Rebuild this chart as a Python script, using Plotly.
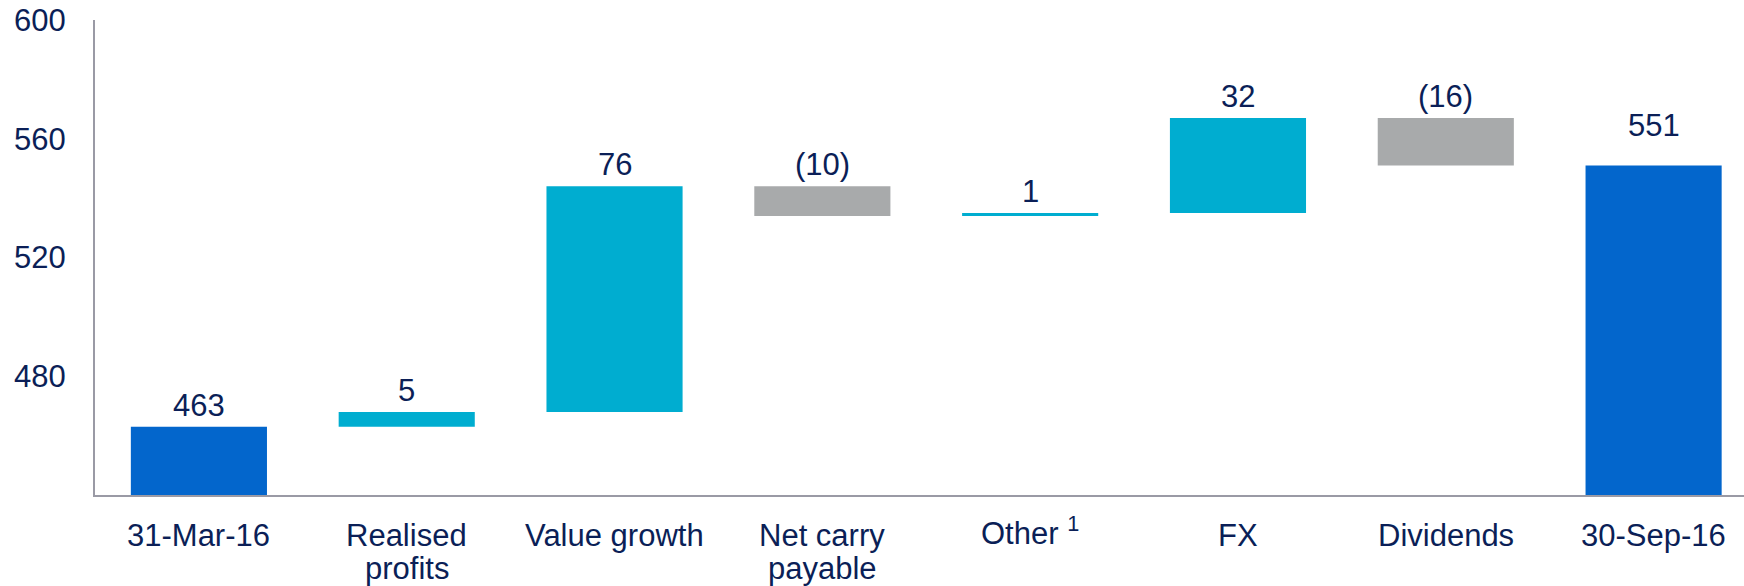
import plotly.graph_objects as go

# Portfolio value bridge, 31-Mar-16 to 30-Sep-16
categories = ["31-Mar-16", "Realised<br>profits", "Value growth", "Net carry<br>payable",
              "Other <sup>1</sup>", "FX", "Dividends", "30-Sep-16"]
values = [463, 5, 76, -10, 1, 32, -16, 551]
measures = ["absolute", "relative", "relative", "relative", "relative", "relative", "relative", "total"]
y_ticks = [480, 520, 560, 600]

TEXT = "#0B1F57"
FONT = "Liberation Sans, Arial, sans-serif"
x_pos = list(range(len(categories)))

fig = go.Figure(go.Waterfall(
    x=x_pos,
    y=values,
    measure=measures,
    increasing=dict(marker=dict(color="#00ADD0")),
    decreasing=dict(marker=dict(color="#A8AAAB")),
    totals=dict(marker=dict(color="#0366CC")),
    connector=dict(visible=False),
    textposition="none",
    hoverinfo="skip",
))

# value labels sit above the upper edge of each bar; the closing total
# label is lifted a little further
running = 0
for i, (v, m) in enumerate(zip(values, measures)):
    if m == "relative":
        top = max(running, running + v)
        running += v
    else:
        running = v
        top = v
    label = f"({abs(v)})" if v < 0 else f"{v}"
    shift = 20 if m == "total" else 2
    fig.add_annotation(x=i, y=top, text=label, showarrow=False,
                       yanchor="bottom", yshift=shift,
                       font=dict(family=FONT, size=31, color=TEXT))

# category labels under the axis, one text per line with tight line spacing;
# a superscript makes the text box taller, so nudge that one back up
for i, cat in enumerate(categories):
    for k, line in enumerate(cat.split("<br>")):
        shift = -(40 + 33 * k) + (4 if "<sup>" in line else 0)
        fig.add_annotation(x=i, xref="x", y=0, yref="paper", text=line,
                           showarrow=False, yanchor="middle", yshift=shift,
                           font=dict(family=FONT, size=31, color=TEXT))

fig.update_layout(
    width=1744, height=586,
    margin=dict(l=95, r=0, t=20, b=91),
    paper_bgcolor="white", plot_bgcolor="white",
    waterfallgap=0.345,
    showlegend=False,
    font=dict(family=FONT, size=31, color=TEXT),
)
fig.update_xaxes(
    range=[-0.5, 7.435], automargin=False,
    tickvals=x_pos, showticklabels=False,
    showline=True, linecolor="#9A9AA5", linewidth=2,
    showgrid=False, zeroline=False, ticks="",
)
fig.update_yaxes(
    range=[440, 600], automargin=False,
    tickvals=y_ticks,
    showline=True, linecolor="#9A9AA5", linewidth=2,
    showgrid=False, zeroline=False, ticks="",
    ticklabelstandoff=21,
    tickfont=dict(family=FONT, size=31, color=TEXT),
)

fig.write_html("out.html")
